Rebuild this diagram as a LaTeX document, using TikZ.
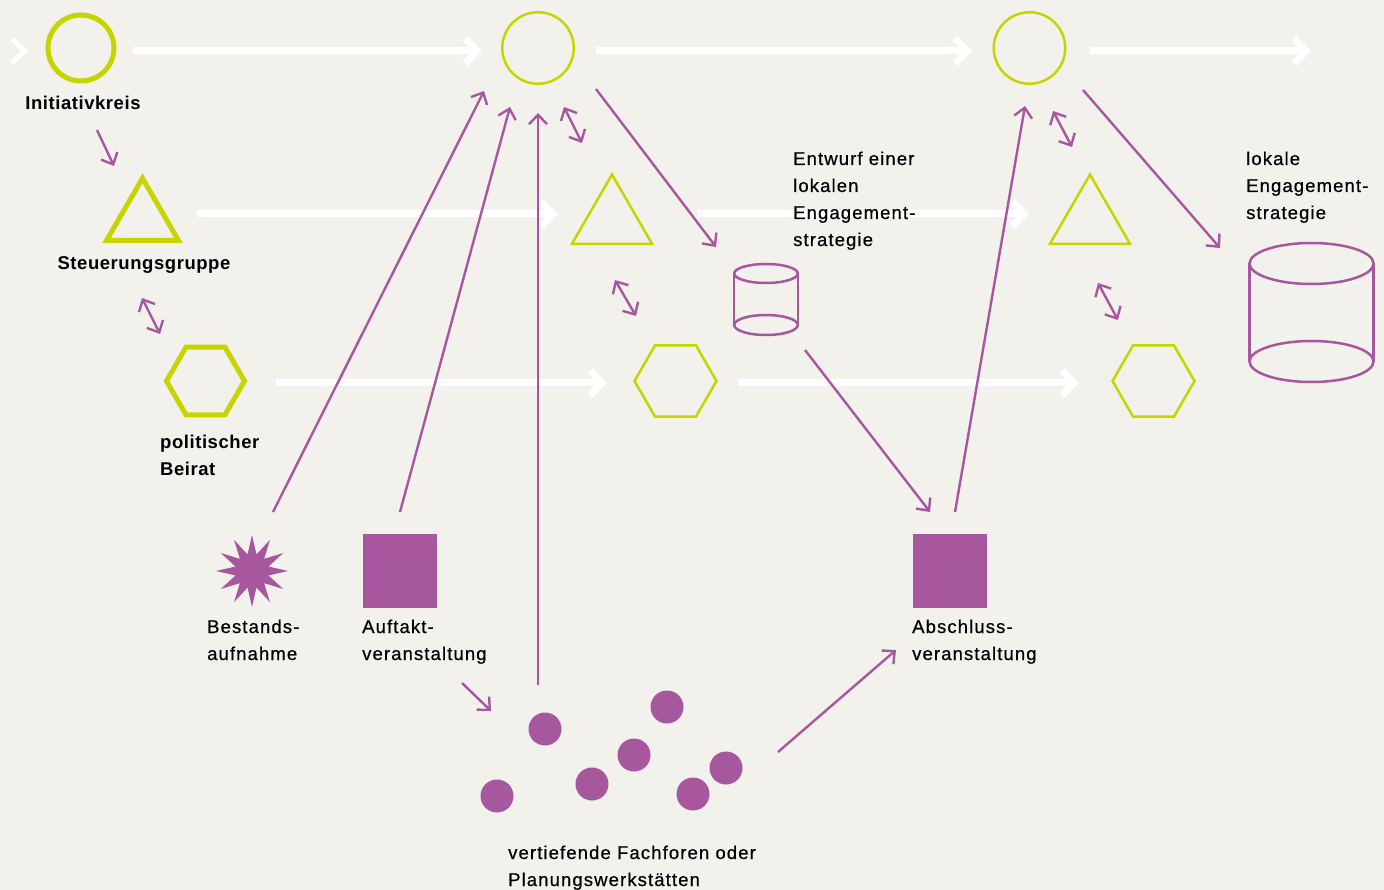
\documentclass[tikz,border=0pt]{standalone}
\usepackage{fontspec}
\setmainfont{Liberation Sans}[LetterSpace=3]
\newfontfamily\lblfont{Liberation Sans}[LetterSpace=6,FakeBold=0.6]
\usetikzlibrary{arrows.meta,shapes.geometric}
\definecolor{bg}{HTML}{F2F1EC}
\definecolor{lime}{HTML}{C8D400}
\definecolor{plum}{HTML}{A6579E}
\begin{document}
\begin{tikzpicture}[x=1pt,y=-1pt,
  flow/.style={white, line width=7pt, -{Straight Barb[length=12pt,width=25pt]}},
  link/.style={plum, line width=2.4pt, -{Straight Barb[length=9.5pt,width=18pt]}},
  dlink/.style={plum, line width=2.4pt, {Straight Barb[length=9.5pt,width=18pt]}-{Straight Barb[length=9.5pt,width=18pt]}},
  thickshape/.style={draw=lime, line width=5pt, inner sep=0pt},
  thinshape/.style={draw=lime, line width=2.5pt, inner sep=0pt},
  ring/.style={circle, minimum size=#1},
  hexa/.style={regular polygon, regular polygon sides=6, minimum size=#1},
  tri/.style={regular polygon, regular polygon sides=3, minimum size=#1},
  cyl/.style={plum, line width=2.5pt},
  dot/.style={circle, fill=plum, minimum size=33pt, inner sep=0pt},
  sq/.style={fill=plum, minimum size=74pt, inner sep=0pt},
  lbl/.style={font=\fontsize{18.5}{27}\selectfont\lblfont, align=left, inner sep=0pt, anchor=base west, text=black},
  blbl/.style={lbl, font=\fontsize{18.5}{27}\selectfont\bfseries}
]
\fill[bg] (0,0) rectangle (1384,890);
\useasboundingbox (0,0) rectangle (1384,890);

% ---------- green shapes ----------
\node[thickshape, ring=66pt] (c1) at (81,48) {};
\node[thinshape, ring=71.5pt] (c2) at (538,48) {};
\node[thinshape, ring=71.5pt] (c3) at (1029.5,48) {};
\node[thickshape, tri=83pt] (t1) at (142.5,219.7) {};
\node[thinshape, tri=92.4pt] (t2) at (612,220.7) {};
\node[thinshape, tri=92.4pt] (t3) at (1090,220.7) {};
\node[thickshape, hexa=78pt] (h1) at (205.5,381) {};
\node[thinshape, hexa=82pt] (h2) at (675.5,381) {};
\node[thinshape, hexa=82pt] (h3) at (1153.5,381) {};

% ---------- white flow arrows ----------
\coordinate (in0a) at (12,39);
\coordinate (in0b) at (25,51);
\coordinate (in0c) at (12,63);
\draw[white, line width=5pt] (in0a) -- (in0b) -- (in0c);
\coordinate (f1a) at (133,51);  \coordinate (f1b) at (482,51);
\coordinate (f2a) at (596,51);  \coordinate (f2b) at (972,51);
\coordinate (f3a) at (1090,51); \coordinate (f3b) at (1311,51);
\coordinate (f4a) at (197,214); \coordinate (f4b) at (558,214);
\coordinate (f5a) at (697,214); \coordinate (f5b) at (1029,214);
\coordinate (f6a) at (276,383); \coordinate (f6b) at (607,383);
\coordinate (f7a) at (738,383); \coordinate (f7b) at (1079,383);
\foreach \i in {1,...,7} {\draw[flow] (f\i a) -- (f\i b);}

% ---------- cylinders ----------
\coordinate (cy1) at (766,299);
\draw[cyl] (766,273.5) ellipse [x radius=31.8, y radius=9.5];
\draw[cyl] (766,325) ellipse [x radius=31.8, y radius=10];
\draw[cyl] (734.2,273.5) -- (734.2,325) (797.8,273.5) -- (797.8,325);
\coordinate (cy2) at (1311.5,312);
\draw[cyl] (1311.5,263.5) ellipse [x radius=62, y radius=20.5];
\draw[cyl] (1311.5,361.5) ellipse [x radius=62, y radius=20.5];
\draw[cyl] (1249.5,263.5) -- (1249.5,361.5) (1373.5,263.5) -- (1373.5,361.5);

% ---------- purple event shapes ----------
\node[star, star points=12, star point ratio=2.1, minimum size=72pt, inner sep=0pt, fill=plum] (st) at (252,571) {};
\node[sq] (auf) at (399.5,571) {};
\node[sq] (abs) at (949.5,571) {};
\node[dot] (d1) at (545,729) {};
\node[dot] (d2) at (497,796) {};
\node[dot] (d3) at (592,784) {};
\node[dot] (d4) at (634,755) {};
\node[dot] (d5) at (667,707) {};
\node[dot] (d6) at (726,768) {};
\node[dot] (d7) at (693,794) {};

% ---------- purple connectors ----------
\coordinate (a1) at (97,130);   \coordinate (b1) at (114,166);
\draw[link] (a1) -- (b1);
\coordinate (a2) at (142,298);  \coordinate (b2) at (160,334);
\draw[dlink] (a2) -- (b2);
\coordinate (a3) at (564,107);  \coordinate (b3) at (582,143);
\draw[dlink] (a3) -- (b3);
\coordinate (a4) at (615,280);  \coordinate (b4) at (636,316);
\draw[dlink] (a4) -- (b4);
\coordinate (a5) at (1053,111); \coordinate (b5) at (1072,147);
\draw[dlink] (a5) -- (b5);
\coordinate (a6) at (1098,283); \coordinate (b6) at (1118,320);
\draw[dlink] (a6) -- (b6);
\coordinate (a7) at (596,89);   \coordinate (b7) at (716,247);
\draw[link] (a7) -- (b7);
\coordinate (a8) at (1083,90);  \coordinate (b8) at (1220,248);
\draw[link] (a8) -- (b8);
\coordinate (a9) at (805,350);  \coordinate (b9) at (930,512);
\draw[link] (a9) -- (b9);
\coordinate (a10) at (955,512); \coordinate (b10) at (1025,106);
\draw[link] (a10) -- (b10);
\coordinate (a11) at (273,512); \coordinate (b11) at (484,91);
\draw[link] (a11) -- (b11);
\coordinate (a12) at (400,512); \coordinate (b12) at (510,107);
\draw[link] (a12) -- (b12);
\coordinate (a13) at (538,685); \coordinate (b13) at (538,113);
\draw[link] (a13) -- (b13);
\coordinate (a14) at (462,683); \coordinate (b14) at (491,711);
\draw[link] (a14) -- (b14);
\coordinate (a15) at (778,752); \coordinate (b15) at (896,650);
\draw[link] (a15) -- (b15);

% ---------- labels (anchor = baseline of last line) ----------
\node[blbl, anchor=base] (l1) at (83,110) {Initiativkreis};
\node[blbl, anchor=base] (l2) at (144,270) {Steuerungsgruppe};
\node[blbl] (l3) at (160,475) {politischer\\Beirat};
\node[lbl] (l4) at (793,246) {Entwurf einer\\lokalen\\Engagement-\\strategie};
\node[lbl] (l5) at (1246,219) {lokale\\Engagement-\\strategie};
\node[lbl] (l6) at (207,660) {Bestands-\\aufnahme};
\node[lbl] (l7) at (362,660) {Auftakt-\\veranstaltung};
\node[lbl] (l8) at (912,660) {Abschluss-\\veranstaltung};
\node[lbl] (l9) at (508,886) {vertiefende Fachforen oder\\Planungswerkstätten};
\end{tikzpicture}
\end{document}
